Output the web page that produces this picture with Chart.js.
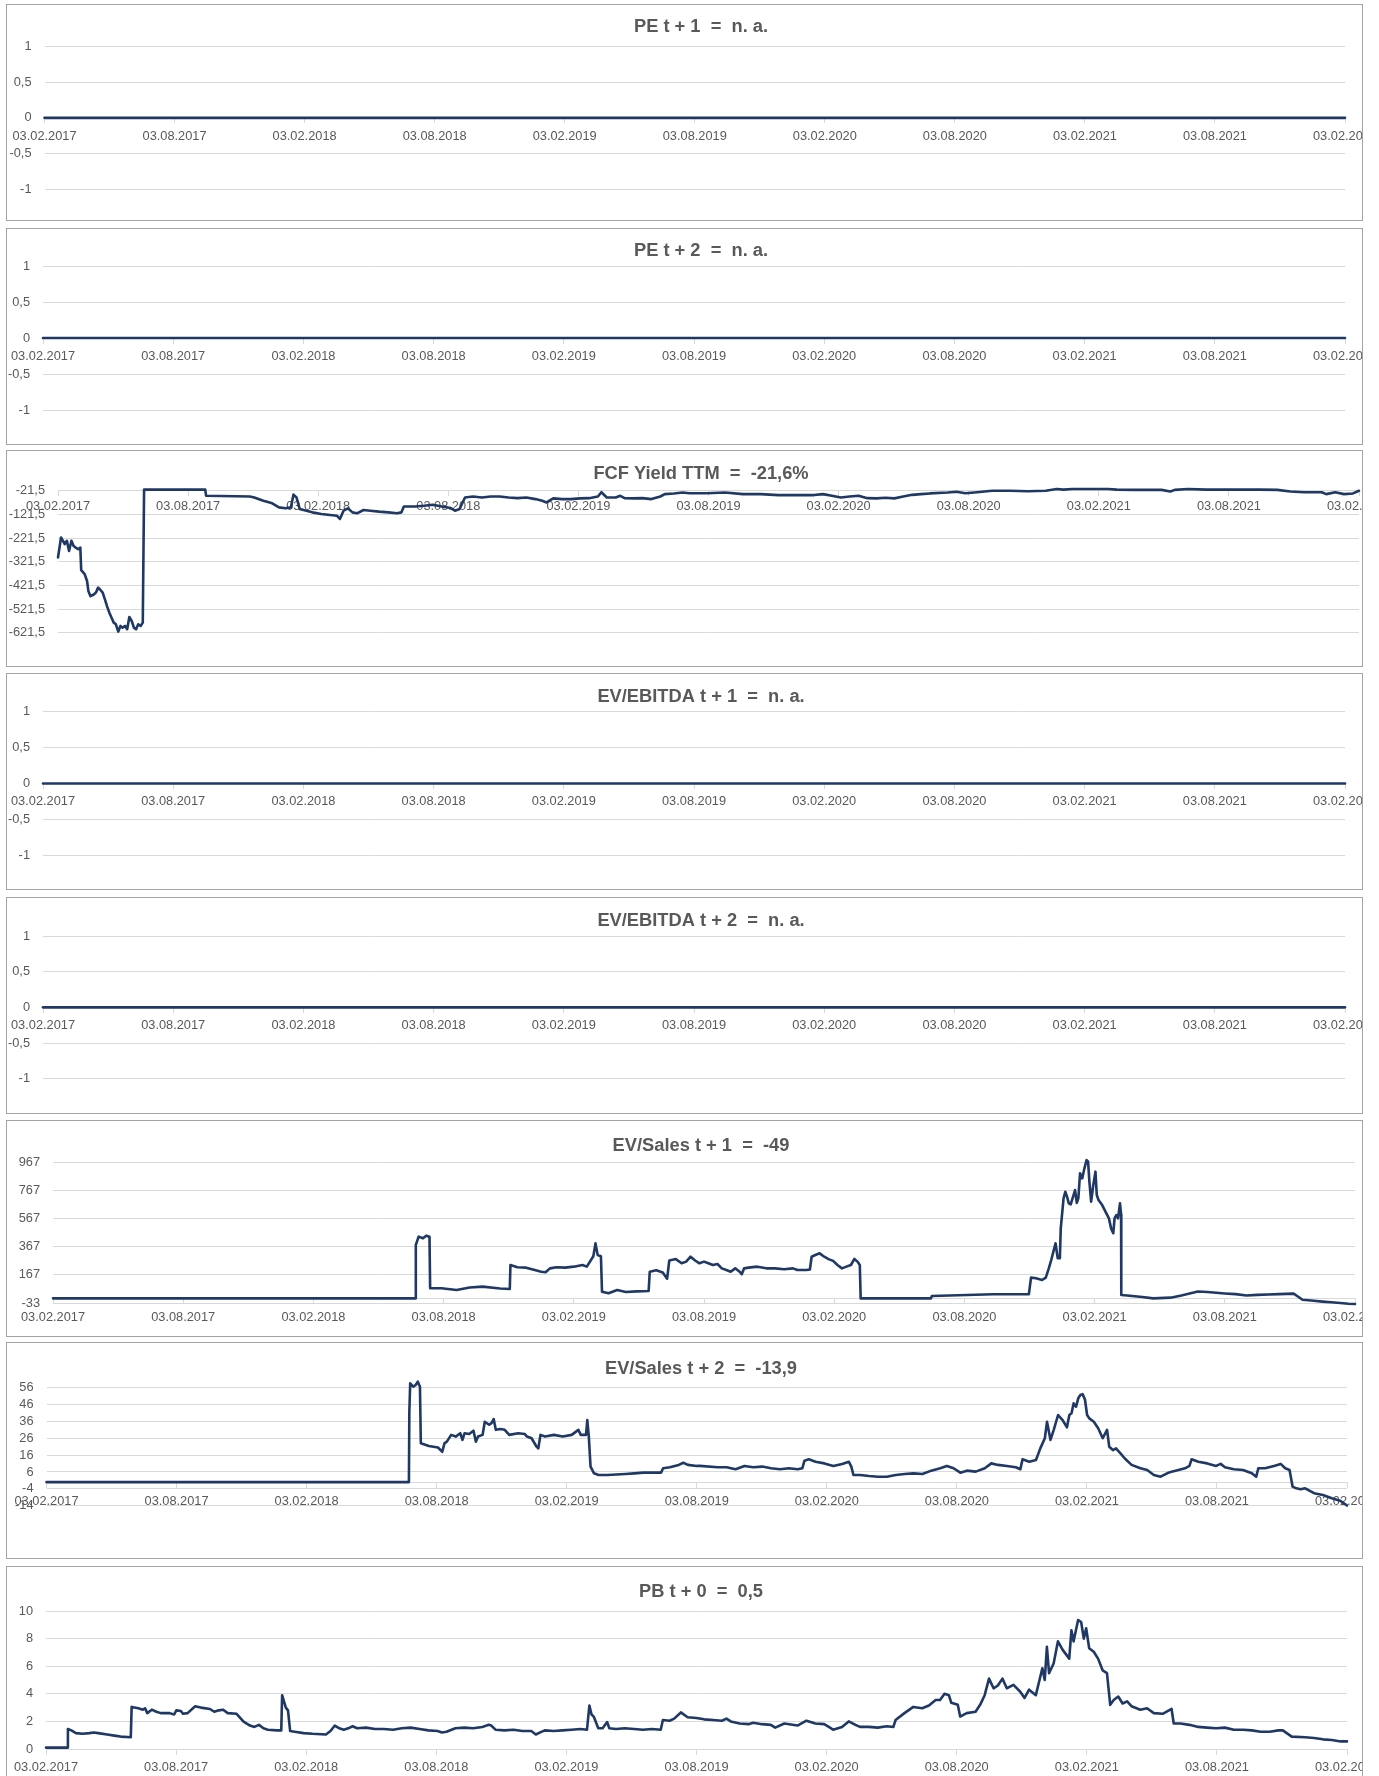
<!DOCTYPE html>
<html><head><meta charset="utf-8">
<script src="https://cdn.jsdelivr.net/npm/chart.js@4.4.1/dist/chart.umd.min.js"></script>
<style>
html,body{margin:0;padding:0;background:#fff;}
body{width:1379px;height:1776px;position:relative;overflow:hidden;}
.panel{position:absolute;left:6px;width:1357px;height:217px;box-sizing:border-box;border:1px solid #a3a3a3;background:#fff;}
.panel canvas{position:absolute;left:0;top:0;}
</style></head><body>
<script>
// ---------- DATA ----------
const xTickMonths = [0, 6, 12, 18, 24, 30, 36, 42, 48, 54, 60];
const xTickLabels = ["03.02.2017","03.08.2017","03.02.2018","03.08.2018","03.02.2019","03.08.2019","03.02.2020","03.08.2020","03.02.2021","03.08.2021","03.02.2022"];

const titles = [
  "PE t + 1  =  n. a.",
  "PE t + 2  =  n. a.",
  "FCF Yield TTM  =  -21,6%",
  "EV/EBITDA t + 1  =  n. a.",
  "EV/EBITDA t + 2  =  n. a.",
  "EV/Sales t + 1  =  -49",
  "EV/Sales t + 2  =  -13,9",
  "PB t + 0  =  0,5"
];

const ticksUnit = [-1, -0.5, 0, 0.5, 1];
const ticksFcf = [-621.5, -521.5, -421.5, -321.5, -221.5, -121.5, -21.5];
const ticksEvs1 = [-33, 167, 367, 567, 767, 967];
const ticksEvs2 = [-14, -4, 6, 16, 26, 36, 46, 56];
const ticksPb = [0, 2, 4, 6, 8, 10];

const flatMonths = [0, 60];
const flatValues = [0, 0];

const fcfMonths = [0,0.14,0.31,0.41,0.51,0.62,0.72,0.82,0.93,1.03,1.07,1.23,1.34,1.4,1.5,1.65,1.75,1.85,1.95,2.06,2.16,2.26,2.37,2.47,2.57,2.67,2.78,2.88,2.98,3.09,3.19,3.29,3.4,3.5,3.6,3.7,3.81,3.91,3.97,6.79,6.83,8.85,9.05,9.47,9.88,10.19,10.49,10.74,10.86,11.0,11.15,11.32,11.73,12.14,12.55,12.86,13.0,13.17,13.37,13.58,13.79,14.09,14.4,14.81,15.23,15.64,15.84,15.95,16.46,16.87,17.28,17.7,18.11,18.31,18.52,18.77,19.14,19.55,19.96,20.37,20.78,21.19,21.6,22.02,22.33,22.53,22.84,23.25,23.66,24.07,24.49,24.9,25.06,25.31,25.72,25.93,26.13,26.54,26.95,27.37,27.78,27.98,28.4,28.81,29.12,29.94,30.76,31.59,32.41,33.23,34.05,34.87,35.28,35.69,36.1,36.51,36.92,37.33,37.75,38.16,38.57,38.98,39.39,39.8,40.21,41.03,41.44,41.85,42.26,43.08,43.91,44.73,45.55,46.06,46.37,46.78,47.6,48.42,48.83,49.66,50.48,50.89,51.3,51.5,52.12,52.94,53.76,54.58,55.4,56.23,56.84,57.46,58.28,58.49,58.9,59.31,59.72,60];
const fcfValues = [-304,-219,-247,-233,-276,-233,-255,-262,-269,-262,-357,-374,-403,-445,-467,-460,-452,-431,-440,-452,-480,-509,-537,-558,-579,-586,-617,-593,-600,-593,-607,-555,-572,-600,-607,-586,-593,-579,-17,-17,-43,-46,-50,-64,-75,-92,-96,-92,-38,-50,-99,-103,-113,-120,-124,-127,-141,-106,-96,-113,-117,-103,-106,-110,-113,-117,-113,-88,-88,-85,-81,-88,-95,-106,-99,-50,-46,-50,-46,-46,-50,-53,-50,-57,-64,-71,-54,-57,-57,-54,-53,-46,-28,-50,-50,-43,-53,-54,-53,-57,-46,-36,-33,-29,-32,-32,-29,-36,-36,-40,-40,-40,-36,-43,-50,-46,-43,-53,-54,-51,-54,-46,-39,-36,-33,-29,-26,-32,-29,-22,-22,-24,-22,-14,-17,-14,-14,-14,-17,-18,-18,-18,-25,-18,-14,-17,-17,-17,-17,-18,-25,-28,-28,-36,-28,-36,-33,-22];

const evSales1Months = [0,16.7,16.72,16.85,17.05,17.2,17.35,17.38,17.9,18.6,19.2,19.8,20.6,21.05,21.08,21.4,21.8,22.2,22.5,22.7,22.9,23.2,23.6,24.0,24.4,24.6,24.9,25.0,25.1,25.25,25.3,25.6,26.0,26.4,26.9,27.45,27.5,27.8,28.1,28.3,28.4,28.7,28.97,29.18,29.38,29.59,29.79,30.0,30.2,30.41,30.62,30.82,31.03,31.23,31.44,31.64,31.74,31.85,32.05,32.46,32.87,33.28,33.69,34.1,34.3,34.72,34.88,34.96,35.13,35.33,35.54,35.74,35.95,36.15,36.36,36.56,36.77,36.93,37.07,37.18,37.22,40.46,40.5,43.33,44.97,45.07,45.3,45.58,45.75,45.89,46.0,46.2,46.3,46.4,46.44,46.57,46.65,46.73,46.81,46.9,47.1,47.18,47.25,47.33,47.43,47.53,47.63,47.7,47.76,47.84,47.94,48.04,48.1,48.18,48.35,48.5,48.66,48.76,48.86,48.92,49.0,49.08,49.17,49.22,49.23,49.5,50.2,50.7,51.5,52.0,52.76,53.2,53.6,54.0,54.5,55.0,55.5,56.0,56.5,57.17,57.35,57.58,58.1,58.5,58.9,59.32,59.7,60];
const evSales1Values = [0,0,381,440,428,447,440,72,72,60,77,84,70,67,238,222,219,202,190,186,214,222,219,226,238,226,300,392,309,300,48,36,60,45,50,53,190,200,185,140,270,280,250,262,297,270,250,262,250,238,245,214,202,190,214,190,172,214,219,226,214,214,207,214,202,202,206,297,309,321,297,280,267,238,214,226,238,281,262,238,0,0,17,29,29,148,143,131,148,214,273,393,286,286,499,713,760,725,677,670,772,680,713,891,855,927,986,974,832,689,808,903,737,701,665,618,570,499,464,570,594,570,677,600,24,20,10,0,5,20,49,45,40,35,30,20,25,28,30,34,15,-10,-17,-23,-28,-33,-38,-40];

const evSales2Months = [0,16.72,16.74,16.78,16.92,17.03,17.13,17.23,17.27,17.64,18.06,18.26,18.36,18.47,18.67,18.88,19.09,19.19,19.29,19.5,19.7,19.81,19.91,20.12,20.22,20.42,20.53,20.63,20.73,20.94,21.14,21.35,21.76,22.07,22.17,22.38,22.59,22.69,22.79,23.0,23.41,23.82,24.23,24.54,24.65,24.89,24.95,25.02,25.1,25.26,25.47,25.88,26.7,27.12,27.53,28.35,28.45,28.76,29.17,29.38,29.59,30.0,30.14,30.97,31.38,31.79,32.2,32.61,33.02,33.43,33.84,34.25,34.66,34.87,34.97,35.17,35.48,35.89,36.3,36.71,37.02,37.13,37.23,37.54,37.95,38.36,38.77,39.18,39.59,40.0,40.41,40.82,41.23,41.54,41.85,42.16,42.46,42.87,43.29,43.59,43.9,44.31,44.72,44.93,45.03,45.34,45.65,45.85,46.06,46.16,46.32,46.47,46.67,46.88,47.08,47.19,47.29,47.39,47.5,47.6,47.7,47.8,47.91,48.01,48.11,48.32,48.52,48.73,48.93,49.03,49.2,49.34,49.55,49.75,50.06,50.47,50.78,51.09,51.4,51.7,51.91,52.22,52.53,52.73,52.83,53.14,53.55,53.96,54.17,54.37,54.78,55.2,55.61,55.81,55.91,56.22,56.63,56.94,57.15,57.35,57.49,57.66,57.86,58.07,58.48,58.89,59.3,59.71,60];
const evSales2Values = [0,0,41.8,58.6,56.6,57.6,59.6,56.5,23,21.4,20.5,18,23,24,28,27,29,25,29,28.5,30.5,24,27,28,35.8,34,35,37.4,31,31.5,31,28,29,28.5,27,26,21.4,20,28,27,28,27,28,31,28,28,36.8,27,9.2,5.2,4.2,4.2,4.8,5.2,5.6,5.6,8.2,8.8,10.2,11.5,10.2,9.6,9.6,8.8,8.8,7.6,9.6,8.8,9.2,8.2,7.6,8.2,7.6,8.2,12.7,13.5,12.1,11.1,9.6,10.8,12.1,9.2,4.2,4.2,3.6,3.2,3.2,4.2,4.8,5.2,4.8,6.8,8.2,9.6,8.2,5.6,6.8,6.2,8.2,11.1,10.2,9.6,8.8,7.6,13.5,12.1,13.1,20,26,35.8,25,31,39.8,36.8,32.5,39.8,40.8,46.7,44.7,49.7,51.7,52.2,49,39.8,37.8,35.8,31.9,26,31,21,19,20,17,14,10.2,8.2,7.2,4.2,3.2,5.2,6.2,7.2,8.2,9.6,13.5,12.1,11.1,9.6,10.8,8.8,7.6,7.2,5.2,3.2,8.2,8.2,9.6,10.8,8.2,7.2,-2.7,-3.7,-4.3,-3.7,-6.6,-7.6,-9.6,-11.2,-13.9];

const pbMonths = [0,0.97,1.01,1.17,1.38,1.69,2.0,2.2,2.41,2.82,3.23,3.44,3.91,3.95,4.26,4.47,4.57,4.67,4.88,5.09,5.29,5.7,5.91,6.01,6.22,6.32,6.53,6.88,7.14,7.56,7.76,7.97,8.17,8.38,8.79,9.1,9.2,9.41,9.61,9.82,10.03,10.23,10.64,10.85,10.89,11.06,11.16,11.26,11.47,11.88,12.29,12.91,13.12,13.32,13.53,13.73,13.94,14.14,14.35,14.76,15.17,15.59,16.0,16.41,16.82,17.23,17.64,18.06,18.26,18.47,18.88,19.29,19.7,20.12,20.42,20.53,20.73,21.14,21.56,21.97,22.38,22.59,22.79,23.0,23.41,23.82,24.23,24.65,24.95,25.06,25.16,25.26,25.47,25.67,25.88,25.98,26.29,26.7,27.12,27.53,27.94,28.35,28.45,28.76,28.97,29.28,29.59,30.0,30.35,30.76,31.17,31.38,31.58,31.99,32.4,32.61,33.02,33.43,33.63,34.05,34.66,35.07,35.48,35.89,36.1,36.3,36.71,37.02,37.33,37.54,37.95,38.36,38.77,39.08,39.18,39.59,40.0,40.41,40.72,41.03,41.23,41.44,41.64,41.75,42.05,42.16,42.46,42.87,43.08,43.29,43.49,43.7,43.9,44.11,44.31,44.62,44.93,45.13,45.34,45.65,45.95,46.06,46.16,46.26,46.47,46.67,46.88,47.19,47.29,47.39,47.6,47.74,47.86,47.97,48.11,48.32,48.52,48.73,48.93,49.08,49.24,49.45,49.65,49.86,50.06,50.47,50.78,51.09,51.5,51.91,52.01,52.32,52.73,53.14,53.55,53.96,54.37,54.78,55.2,55.61,56.02,56.43,56.84,57.04,57.45,58.07,58.48,58.89,59.3,59.71,60];
const pbValues = [0.1,0.1,1.45,1.35,1.15,1.1,1.15,1.2,1.15,1.05,0.95,0.9,0.85,3.05,2.95,2.85,2.95,2.6,2.85,2.7,2.6,2.6,2.5,2.8,2.75,2.55,2.6,3.1,3.0,2.9,2.7,2.8,2.85,2.6,2.55,2.0,1.9,1.7,1.6,1.75,1.5,1.4,1.35,1.35,3.9,3.0,2.8,1.3,1.25,1.15,1.1,1.05,1.3,1.7,1.5,1.4,1.5,1.65,1.5,1.55,1.45,1.45,1.4,1.5,1.55,1.45,1.35,1.3,1.2,1.25,1.5,1.55,1.5,1.6,1.75,1.7,1.4,1.35,1.4,1.3,1.3,1.05,1.2,1.35,1.3,1.35,1.4,1.45,1.4,3.15,2.5,2.35,1.5,1.5,1.95,1.5,1.45,1.5,1.45,1.4,1.45,1.4,2.1,2.05,2.2,2.65,2.3,2.25,2.15,2.1,2.05,2.2,2.0,1.85,1.8,1.9,1.8,1.75,1.55,1.85,1.7,2.05,1.85,1.8,1.6,1.4,1.6,2.0,1.75,1.6,1.6,1.55,1.65,1.6,2.1,2.6,3.05,2.95,3.15,3.55,3.55,4.0,3.9,3.35,3.2,2.35,2.6,2.7,3.2,3.9,5.1,4.4,4.6,5.1,4.4,4.65,4.15,3.7,4.3,3.9,5.85,5.0,7.4,5.5,6.2,7.8,7.2,6.55,8.6,7.8,9.35,9.2,8.0,8.75,7.3,7.05,6.55,5.7,5.5,3.2,3.55,3.8,3.3,3.45,3.1,2.85,2.95,2.6,2.55,2.9,1.85,1.85,1.75,1.6,1.55,1.5,1.55,1.4,1.4,1.35,1.25,1.25,1.35,1.35,0.9,0.85,0.8,0.7,0.65,0.55,0.55];

// ---------- LAYOUT / STYLE ----------
const FONT = '"Liberation Sans", Arial, sans-serif';
const LINE = '#1F3864';
const CW = 1355, CH = 215;

const panels = [
  {top:4,    xs:flatMonths, ys:flatValues, yt:ticksUnit, left:37.5, padR:17, padT:41.5, padB:30.8, cross:0,     xPad:5.7, tY:27.3},
  {top:228,  xs:flatMonths, ys:flatValues, yt:ticksUnit, left:36,   padR:17, padT:37,   padB:34,   cross:0,     xPad:5.7, tY:27},
  {top:450,  xs:fcfMonths,  ys:fcfValues,  yt:ticksFcf,  left:51,   padR:3,  padT:39.7, padB:33.3, cross:-21.5, xPad:2.6, tY:28.3},
  {top:673,  xs:flatMonths, ys:flatValues, yt:ticksUnit, left:36,   padR:17, padT:37.6, padB:33.5, cross:0,     xPad:5.7, tY:28},
  {top:897,  xs:flatMonths, ys:flatValues, yt:ticksUnit, left:36,   padR:17, padT:38,   padB:34.3, cross:0,     xPad:5.7, tY:28.3},
  {top:1120, xs:evSales1Months, ys:evSales1Values, yt:ticksEvs1, left:46, padR:7, padT:41.7, padB:33, cross:0, xPad:6.3, tY:29.5},
  {top:1342, xs:evSales2Months, ys:evSales2Values, yt:ticksEvs2, left:39.5, padR:15, padT:44.7, padB:52.3, cross:0, xPad:6.3, tY:31},
  {top:1566, xs:pbMonths, ys:pbValues, yt:ticksPb, left:39, padR:15, padT:44, padB:33, cross:0, xPad:5.6, tY:30.3}
];

const titlePlugin = {
  id: 'panelTitle',
  afterDraw(chart, args, opts) {
    const ctx = chart.ctx;
    ctx.save();
    ctx.font = 'bold 18.3px ' + FONT;
    ctx.fillStyle = '#595959';
    ctx.textAlign = 'center';
    ctx.textBaseline = 'alphabetic';
    ctx.fillText(opts.text, opts.x, opts.y);
    ctx.restore();
  }
};

const fmt = v => String(v).replace('.', ',');

panels.forEach((p, idx) => {
  const div = document.createElement('div');
  div.className = 'panel';
  div.style.top = p.top + 'px';
  document.body.appendChild(div);
  const cv = document.createElement('canvas');
  cv.width = CW; cv.height = CH;
  cv.style.width = CW + 'px'; cv.style.height = CH + 'px';
  div.appendChild(cv);

  new Chart(cv, {
    type: 'line',
    data: {
      datasets: [{
        data: p.xs.map((x, i) => ({x: x, y: p.ys[i]})),
        borderColor: LINE,
        borderWidth: 2.6,
        pointRadius: 0,
        pointHoverRadius: 0,
        tension: 0,
        clip: false,
        borderJoinStyle: 'round',
        borderCapStyle: 'round',
        fill: false
      }]
    },
    options: {
      responsive: false,
      animation: false,
      devicePixelRatio: 1,
      events: [],
      layout: {padding: {left: 0, right: p.padR, top: p.padT, bottom: p.padB}},
      plugins: {
        legend: {display: false},
        tooltip: {enabled: false},
        title: {display: false},
        panelTitle: {text: titles[idx], x: 694, y: p.tY}
      },
      scales: {
        x: {
          type: 'linear',
          min: xTickMonths[0],
          max: xTickMonths[xTickMonths.length - 1],
          position: {y: p.cross},
          afterFit(s) { s.height = 0; s.paddingLeft = 0; s.paddingRight = 0; s.paddingTop = 0; s.paddingBottom = 0; },
          afterBuildTicks(s) { s.ticks = xTickMonths.map(v => ({value: v})); },
          ticks: {
            autoSkip: false, maxRotation: 0, minRotation: 0,
            padding: p.xPad,
            color: '#595959',
            font: {family: FONT, size: 12.8},
            callback: (v) => xTickLabels[xTickMonths.indexOf(v)]
          },
          grid: {drawOnChartArea: false, drawTicks: true, tickLength: 5, color: '#d9d9d9', lineWidth: 1},
          border: {display: true, color: '#d9d9d9', width: 1}
        },
        y: {
          type: 'linear',
          min: p.yt[0],
          max: p.yt[p.yt.length - 1],
          afterFit(s) { s.width = p.left; },
          afterBuildTicks(s) { s.ticks = p.yt.map(v => ({value: v})); },
          ticks: {
            autoSkip: false,
            padding: 13,
            color: '#595959',
            font: {family: FONT, size: 12.8},
            callback: (v) => fmt(v)
          },
          grid: {color: '#d9d9d9', lineWidth: 1, drawTicks: false},
          border: {display: false}
        }
      }
    },
    plugins: [titlePlugin]
  });
});
</script>
</body></html>
